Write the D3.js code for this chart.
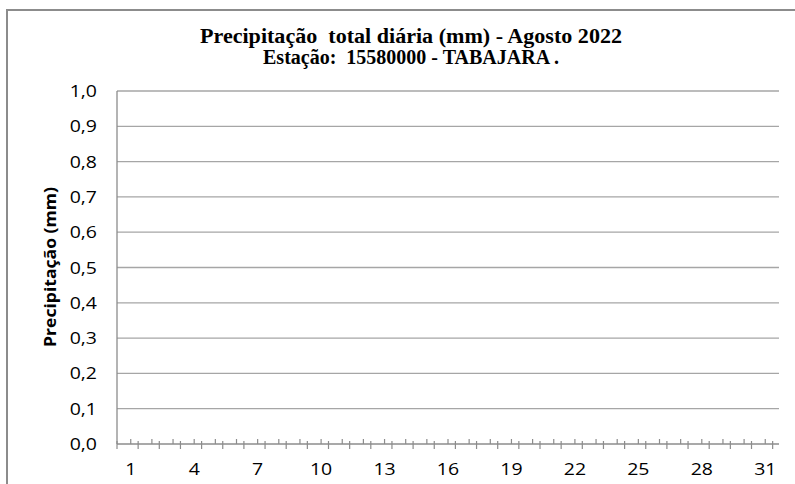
<!DOCTYPE html>
<html><head><meta charset="utf-8">
<script src="https://cdn.jsdelivr.net/npm/d3@7"></script>
<style>body{margin:0;background:#fff}svg{display:block}</style>
</head><body>
<svg id="c" width="795" height="484"></svg>
<script>
const days = d3.range(1, 32);
const precipitacao = [0,0,0,0,0,0,0,0,0,0,0,0,0,0,0,0,0,0,0,0,0,0,0,0,0,0,0,0,0,0,0];
const yTicks = [0,0.1,0.2,0.3,0.4,0.5,0.6,0.7,0.8,0.9,1.0];
const xTickLabels = [1,4,7,10,13,16,19,22,25,28,31];
const titleLines = ["Precipitação  total diária (mm) - Agosto 2022", "Estação:  15580000 - TABAJARA ."];
const titleWidths = [422, 296];

const svg = d3.select("#c");
const m = {l:117, r:779, t:91, b:444};

// outer frame
svg.append("path").attr("d","M7,484 V10 H795").attr("fill","none").attr("stroke","#8c8c8c").attr("stroke-width",2);

const x = d3.scaleBand().domain(days).range([m.l, m.r]).padding(0.3);
const y = d3.scaleLinear().domain([0,1]).range([m.b, m.t]);

// gridlines
svg.append("g").selectAll("line").data(yTicks.slice(1)).join("line")
  .attr("x1", m.l).attr("x2", m.r).attr("y1", d=>y(d)).attr("y2", d=>y(d))
  .attr("stroke","#a6a6a6").attr("stroke-width",1.3);

// bars
svg.append("g").selectAll("rect").data(precipitacao).join("rect")
  .attr("x",(d,i)=>x(days[i])).attr("width",x.bandwidth())
  .attr("y",d=>y(d)).attr("height",d=>m.b-y(d)).attr("fill","#4f81bd");

// axis lines
svg.append("line").attr("x1",m.l).attr("x2",m.l).attr("y1",m.t).attr("y2",m.b).attr("stroke","#8c8c8c").attr("stroke-width",1.3);
svg.append("line").attr("x1",m.l).attr("x2",m.r).attr("y1",m.b).attr("y2",m.b).attr("stroke","#8c8c8c").attr("stroke-width",1.3);

// x ticks: boundaries crossing, centers above
const step = x.step();
const bounds = d3.range(0, days.length+1).map(i => m.l + i*step);
svg.append("g").selectAll("line").data(bounds).join("line")
  .attr("x1",d=>d).attr("x2",d=>d).attr("y1",m.b-3).attr("y2",m.b+5)
  .attr("stroke","#8c8c8c").attr("stroke-width",1.2);
svg.append("g").selectAll("line").data(days).join("line")
  .attr("x1",d=>x(d)+x.bandwidth()/2).attr("x2",d=>x(d)+x.bandwidth()/2).attr("y1",m.b-5).attr("y2",m.b)
  .attr("stroke","#8c8c8c").attr("stroke-width",1.2);

const fmt = d3.format(".1f");
const sx = 1.18;
// y tick labels
svg.append("g").selectAll("text").data(yTicks).join("text")
  .attr("transform",d=>`translate(97,${y(d)+6}) scale(${sx},1)`).attr("text-anchor","end")
  .attr("font-family","'Open Sans', sans-serif").attr("font-size",16.5).attr("fill","#000")
  .text(d=>fmt(d).replace(".",","));

// x tick labels
svg.append("g").selectAll("text").data(xTickLabels).join("text")
  .attr("transform",d=>`translate(${x(d)+x.bandwidth()/2},475) scale(${sx},1)`).attr("text-anchor","middle")
  .attr("font-family","'Open Sans', sans-serif").attr("font-size",16.5).attr("fill","#000")
  .text(d=>d);

// y axis title
svg.append("text").attr("transform","translate(56,267) rotate(-90)").attr("text-anchor","middle")
  .attr("font-family","'Open Sans', sans-serif").attr("font-weight","bold").attr("font-size",16)
  .attr("textLength",160).attr("lengthAdjust","spacingAndGlyphs")
  .text("Precipitação (mm)");

// title
svg.append("g").selectAll("text").data(titleLines).join("text")
  .attr("x",411).attr("y",(d,i)=>43+i*21).attr("text-anchor","middle")
  .attr("font-family","'Liberation Serif', 'Times New Roman', serif").attr("font-weight","bold").attr("font-size",20)
  .attr("textLength",(d,i)=>titleWidths[i]).attr("lengthAdjust","spacingAndGlyphs")
  .attr("xml:space","preserve").style("white-space","pre")
  .text(d=>d);
</script>
</body></html>
